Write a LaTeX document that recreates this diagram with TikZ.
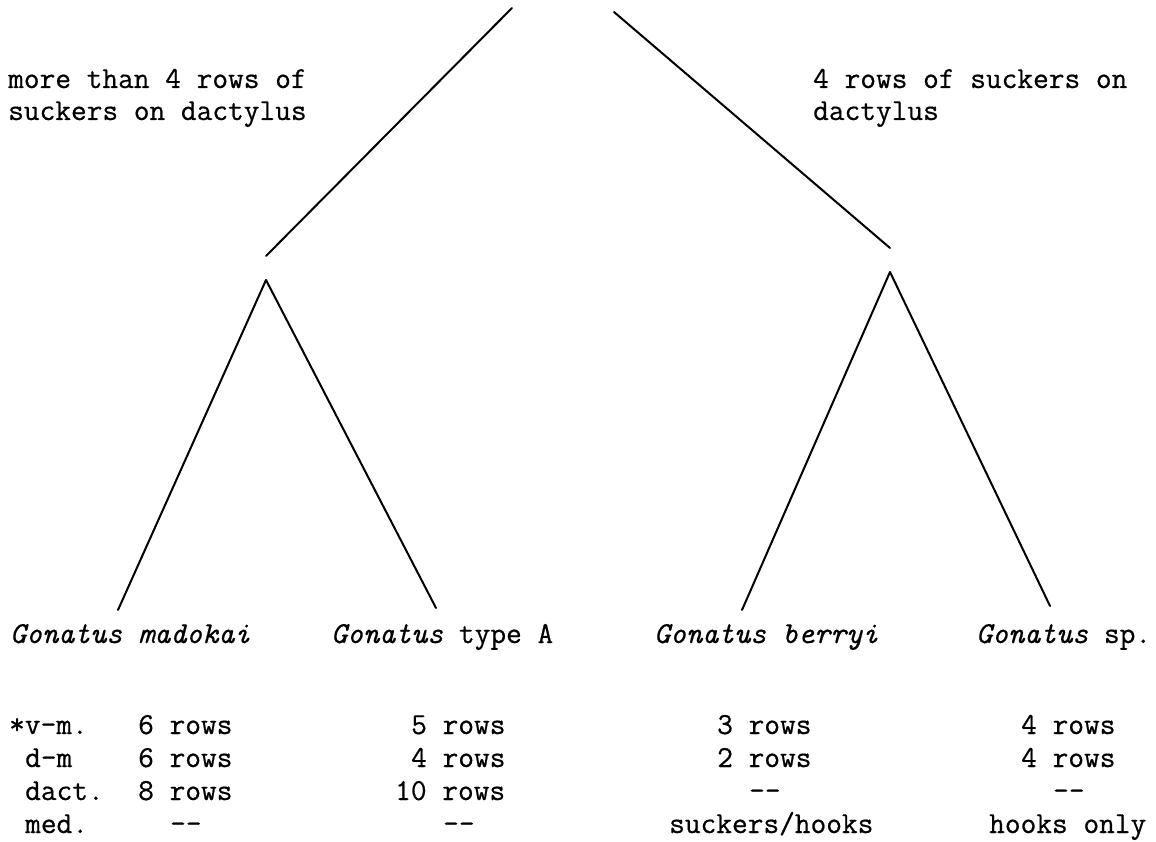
\documentclass[tikz,border=0pt]{standalone}
\usepackage{fontspec}
\setmonofont{Latin Modern Mono}[FakeBold=0.6]
\begin{document}
\begin{tikzpicture}[x=1pt,y=-1pt,
  txt/.style={font=\ttfamily\fontsize{30.5}{34}\selectfont, inner sep=0pt, anchor=base west},
  branch/.style={line width=2pt, line cap=round}]
\useasboundingbox (0,0) rectangle (1156,842);

% branch points
\coordinate (topL) at (512,8);
\coordinate (topR) at (614,12);
\coordinate (endL) at (266,256);
\coordinate (endR) at (890,248);
\coordinate (apL) at (266,280);
\coordinate (apR) at (890,272);
\coordinate (legA) at (118,610);
\coordinate (legB) at (436,608);
\coordinate (legC) at (742,610);
\coordinate (legD) at (1050,606);

\draw[branch] (topL) -- (endL);
\draw[branch] (topR) -- (endR);
\draw[branch] (apL) -- (legA);
\draw[branch] (apL) -- (legB);
\draw[branch] (apR) -- (legC);
\draw[branch] (apR) -- (legD);

% character statements
\node[txt] (hl1) at (8,88) {more than 4 rows of};
\node[txt] (hl2) at (8,120) {suckers on dactylus};
\node[txt] (hr1) at (813,88) {4 rows of suckers on};
\node[txt] (hr2) at (813,120) {dactylus};

% taxa
\node[txt] (spA) at (10,643) {\textit{Gonatus madokai}};
\node[txt] (spB) at (331,643) {\textit{Gonatus} type A};
\node[txt] (spC) at (654,643) {\textit{Gonatus berryi}};
\node[txt] (spD) at (976,643) {\textit{Gonatus} sp.};

% row labels
\node[txt] (lab1) at (9,734) {*v-m.};
\node[txt] (lab2) at (25,767) {d-m};
\node[txt] (lab3) at (25,800) {dact.};
\node[txt] (lab4) at (25,833) {med.};

% Gonatus madokai
\node[txt] (a1) at (138,734) {6 rows};
\node[txt] (a2) at (138,767) {6 rows};
\node[txt] (a3) at (138,800) {8 rows};
\node[txt] (a4) at (170,833) {-{}-};

% Gonatus type A
\node[txt] (b1) at (411,734) {5 rows};
\node[txt] (b2) at (411,767) {4 rows};
\node[txt] (b3) at (395,800) {10 rows};
\node[txt] (b4) at (443,833) {-{}-};

% Gonatus berryi
\node[txt] (c1) at (717,734) {3 rows};
\node[txt] (c2) at (717,767) {2 rows};
\node[txt] (c3) at (749,800) {-{}-};
\node[txt] (c4) at (669,833) {suckers/hooks};

% Gonatus sp.
\node[txt] (d1) at (1021,734) {4 rows};
\node[txt] (d2) at (1021,767) {4 rows};
\node[txt] (d3) at (1053,800) {-{}-};
\node[txt] (d4) at (989,833) {hooks only};
\end{tikzpicture}
\end{document}
